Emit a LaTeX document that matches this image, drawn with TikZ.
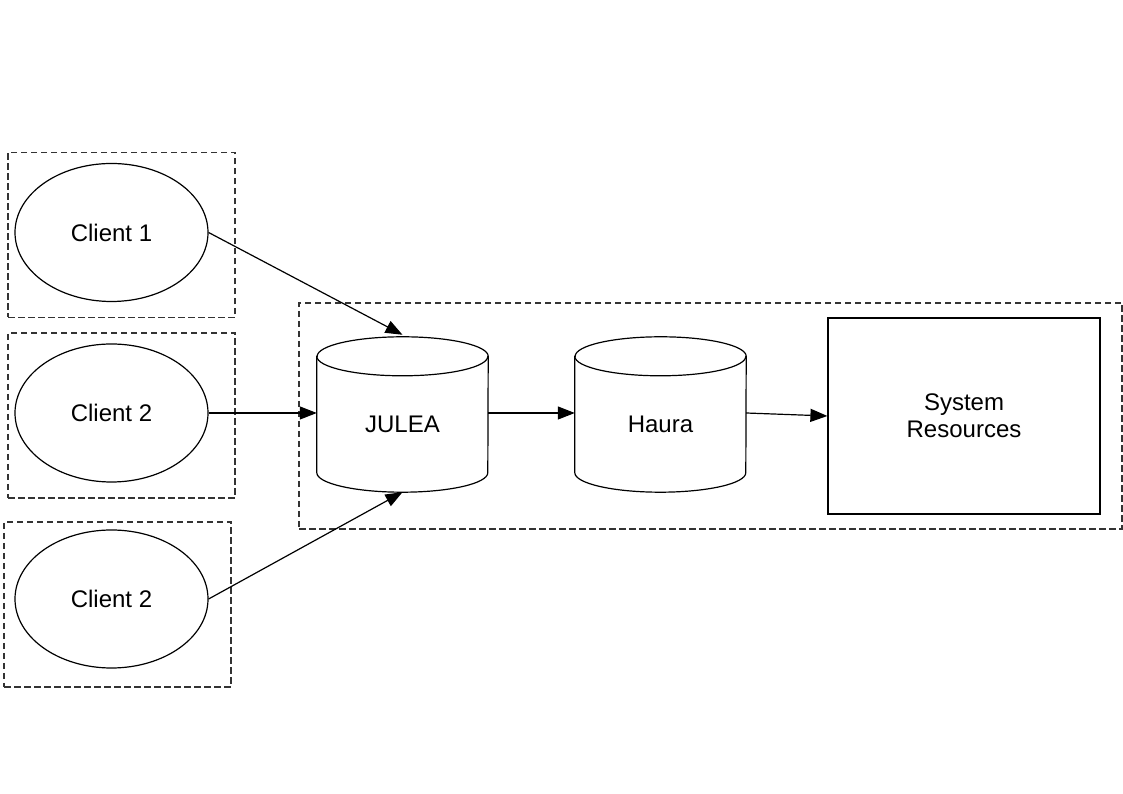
\documentclass[tikz,border=0pt]{standalone}
\usepackage{fontspec}
\setmainfont{Liberation Sans}
\usetikzlibrary{arrows.meta,shapes.geometric}
\begin{document}
\begin{tikzpicture}[x=1pt,y=1pt,
  every node/.style={font=\fontsize{24}{27}\selectfont, inner sep=0pt},
  dbox/.style={draw=black!80, line width=1.2pt, dash pattern=on 6.5pt off 3.5pt, minimum width=227pt, minimum height=165pt},
  client/.style={draw, ellipse, line width=1.2pt, minimum width=193pt, minimum height=138pt},
  cylbox/.style={minimum width=171pt, minimum height=155pt},
  sysbox/.style={draw, line width=1.2pt, minimum width=272pt, minimum height=196pt, align=center},
  conn/.style={line width=1.2pt, -{Triangle[length=17pt,width=13pt]}}
]
\useasboundingbox (0,0) rectangle (1123,794);
% containers
\node[dbox] (b1) at (121.5,559) {};
\node[dbox] (b2) at (121.5,378.5) {};
\node[dbox] (b3) at (117.5,189.5) {};
\node[dbox, minimum width=823pt, minimum height=226pt] (big) at (710.5,378) {};
% clients
\node[client] (c1) at (111.5,561.5) {Client 1};
\node[client] (c2) at (111.5,381) {Client 2};
\node[client] (c3) at (111.5,195) {Client 2};
% cylinders
\foreach \n/\x/\t in {julea/402.5/JULEA, haura/660.5/Haura}{
  \node[cylbox] (\n) at (\x,379.5) {};
  \draw[line width=1.2pt, fill=white]
    ([yshift=-19.5pt]\n.north west) -- ([yshift=19.5pt]\n.south west)
    arc[start angle=180, end angle=360, x radius=85.5pt, y radius=19.5pt]
    -- ([yshift=-19.5pt]\n.north east)
    arc[start angle=0, end angle=180, x radius=85.5pt, y radius=19.5pt] -- cycle;
  \draw[line width=1.2pt] ([yshift=-19.5pt]\n.north west)
    arc[start angle=180, end angle=360, x radius=85.5pt, y radius=19.5pt];
  \node at ([yshift=-9.5pt]\n.center) {\t};
}
% system resources
\node[sysbox] (sys) at (964,378) {System\\Resources};
% connectors
\draw[conn] (c1.east) -- ([yshift=2pt]julea.north);
\draw[conn] (c2.east) -- (c2.east -| julea.west);
\draw[conn] (c3.east) -- (julea.south);
\draw[conn] (julea.east |- c2.east) -- (haura.west |- c2.east);
\draw[conn] (haura.east |- c2.east) -- (sys.west);
\end{tikzpicture}
\end{document}
